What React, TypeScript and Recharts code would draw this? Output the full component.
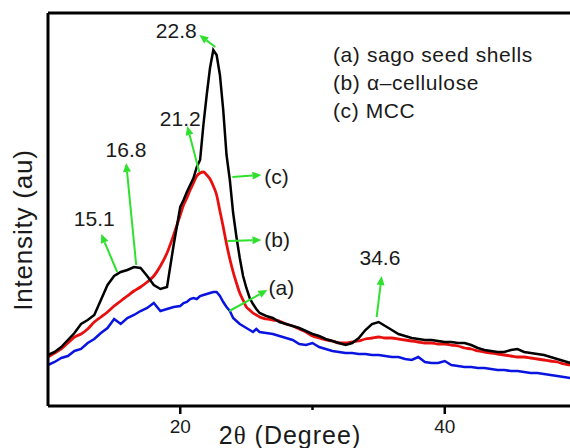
import { LineChart, Line, XAxis, YAxis, ReferenceLine, ReferenceDot, Legend, Label } from 'recharts';

// 2-theta positions (degrees)
const theta = [
  10, 10.5, 11, 11.5, 12, 12.5, 13, 13.5, 14, 14.5, 15, 15.5, 16, 16.5, 17, 17.5, 18, 18.5, 19, 19.5,
  20, 20.25, 20.5, 20.75, 21, 21.25, 21.5, 21.75, 22, 22.25, 22.5, 22.75, 23, 23.25, 23.5, 23.75, 24,
  24.25, 24.5, 24.75, 25, 25.25, 25.5, 25.75, 26,
  26.5, 27, 27.5, 28, 28.5, 29, 29.5, 30, 30.5, 31, 31.5, 32, 32.5, 33, 33.5, 34, 34.5, 35, 35.5, 36,
  36.5, 37, 37.5, 38, 38.5, 39, 39.5, 40, 40.5, 41, 41.5, 42, 42.5, 43, 43.5, 44, 44.5, 45, 45.5, 46,
  46.5, 47, 47.5, 48, 48.5, 49, 49.5, 50,
];

// (c) MCC
const mcc = [
  51, 54, 59, 66, 73, 82, 86, 91, 106, 121, 130, 134, 136, 139, 138, 130, 121, 117, 119, 161,
  199, 206, 214, 221, 228, 239, 246, 281, 311, 338, 356, 351, 331, 296, 251, 226, 193, 169, 148, 130,
  118, 108, 102, 97, 93,
  90, 88, 84, 82, 80, 78, 75, 72, 70, 67, 65, 63, 61, 63, 68, 76, 82, 84, 80, 76,
  72, 70, 68, 67, 66, 66, 65, 64, 64, 63, 63, 61, 58, 56, 55, 54, 54, 56, 57, 54,
  53, 52, 51, 49, 47, 45, 43, 41,
];

// (b) alpha-cellulose
const alphaCellulose = [
  49, 53, 57, 63, 69, 72, 77, 84, 89, 94, 100, 105, 110, 115, 119, 124, 130, 140, 153, 171,
  191, 201, 208, 216, 223, 230, 233, 234, 231, 227, 220, 211, 195, 179, 162, 147, 134, 123, 113, 106,
  99, 96, 93, 91, 89,
  87, 86, 85, 82, 80, 77, 74, 70, 68, 66, 65, 63, 63, 64, 65, 67, 68, 69, 68, 68,
  67, 66, 65, 64, 63, 63, 62, 62, 61, 60, 58, 57, 55, 54, 53, 52, 51, 50, 49, 49,
  48, 47, 46, 45, 44, 42, 41, 39,
];

// (a) sago seed shells
const sagoShells = [
  41, 44, 48, 50, 55, 57, 63, 67, 73, 78, 87, 82, 88, 91, 95, 98, 103, 95, 97, 99,
  100, 103, 104, 107, 108, 107, 110, 111, 112, 113, 114, 114, 110, 104, 99, 95, 88, 85, 82, 80,
  78, 76, 74, 77, 74,
  73, 72, 70, 68, 66, 62, 61, 63, 59, 57, 55, 54, 53, 53, 52, 52, 51, 51, 50, 49,
  49, 47, 46, 49, 44, 43, 43, 45, 41, 40, 39, 39, 38, 38, 37, 36, 36, 35, 35, 34,
  33, 33, 32, 31, 30, 29, 28, 27,
];

const xTicks = [20, 30, 40];

// annotation texts and arrows, in data units (2-theta, intensity)
const peakLabels = [
  { text: '22.8', x: 19.7, y: 375, anchor: 'middle' },
  { text: '21.2', x: 20.0, y: 287, anchor: 'middle' },
  { text: '16.8', x: 15.9, y: 256, anchor: 'middle' },
  { text: '15.1', x: 13.5, y: 187, anchor: 'middle' },
  { text: '34.6', x: 35.1, y: 148, anchor: 'middle' },
  { text: '(c)', x: 26.36, y: 229, anchor: 'start' },
  { text: '(b)', x: 26.36, y: 166, anchor: 'start' },
  { text: '(a)', x: 26.67, y: 118, anchor: 'start' },
];

const arrows = [
  { from: [22.65, 359], to: [21.44, 371] },
  { from: [21.44, 234], to: [20.53, 280] },
  { from: [16.67, 141], to: [15.91, 243] },
  { from: [15.23, 134], to: [14.02, 172] },
  { from: [23.94, 229], to: [26.14, 231] },
  { from: [23.56, 165], to: [26.14, 166] },
  { from: [23.71, 95], to: [26.59, 116] },
  { from: [34.85, 89], to: [35.23, 130] },
];

const data = theta.map((t, i) => ({
  theta: t,
  a: sagoShells[i],
  b: alphaCellulose[i],
  c: mcc[i],
}));

const FONT = '"Liberation Sans", Arial, sans-serif';
const GREEN = '#2fe02f';
const TEXT = '#1a1a1a';

const Arrow = (props: any) => {
  const { x1, y1, x2, y2 } = props;
  const ang = Math.atan2(y2 - y1, x2 - x1);
  const len = 9;
  const half = 4;
  const bx = x2 - len * Math.cos(ang);
  const by = y2 - len * Math.sin(ang);
  const px = -Math.sin(ang) * half;
  const py = Math.cos(ang) * half;
  return (
    <g>
      <line x1={x1} y1={y1} x2={bx} y2={by} stroke={GREEN} strokeWidth={2} />
      <polygon points={`${x2},${y2} ${bx + px},${by + py} ${bx - px},${by - py}`} fill={GREEN} />
    </g>
  );
};

const XTick = (props: any) => {
  const { x, y, payload } = props;
  const major = payload.value % 20 === 0;
  return (
    <g>
      <line x1={x} x2={x} y1={y} y2={y + (major ? 8 : 4)} stroke="#000" strokeWidth={2.5} />
      {major && (
        <text x={x} y={y + 27} textAnchor="middle" fontSize={19} fontFamily={FONT} fill={TEXT}>
          {payload.value}
        </text>
      )}
    </g>
  );
};

const LegendBox = ({ payload }: any) => {
  const items = [...(payload || [])].sort((p: any, q: any) => String(p.value).localeCompare(String(q.value)));
  return (
    <div style={{ fontFamily: FONT, fontSize: 21, lineHeight: '28px', color: TEXT, letterSpacing: 0.6 }}>
      {items.map((it: any) => (
        <div key={it.value} style={{ whiteSpace: 'nowrap' }}>{it.value}</div>
      ))}
    </div>
  );
};

export default function App() {
  return (
    <div style={{ position: 'absolute', left: 0, top: 0, width: 570, height: 448, overflow: 'hidden', background: '#fff' }}>
      <LineChart width={577} height={448} data={data} margin={{ top: 13, right: 0, left: 0, bottom: 0 }}>
        <XAxis
          dataKey="theta"
          type="number"
          domain={[10, 50]}
          ticks={xTicks}
          interval={0}
          height={42}
          tickSize={0}
          tickMargin={0}
          tickLine={false}
          tick={<XTick />}
          axisLine={{ stroke: '#000', strokeWidth: 3 }}
        >
          <Label
            content={({ viewBox }: any) => (
              <text
                x={viewBox.x + 242}
                y={viewBox.y + 38}
                textAnchor="middle"
                fontSize={25}
                letterSpacing={1}
                fontFamily={FONT}
                fill={TEXT}
              >
                2<tspan fontFamily='"Liberation Serif", serif'>θ</tspan> (Degree)
              </text>
            )}
          />
        </XAxis>
        <YAxis
          type="number"
          domain={[0, 393]}
          width={48}
          tick={false}
          tickLine={false}
          axisLine={{ stroke: '#000', strokeWidth: 3 }}
        >
          <Label
            content={({ viewBox }: any) => (
              <text
                x={viewBox.x + 32}
                y={230}
                transform={`rotate(-90 ${viewBox.x + 32} 230)`}
                textAnchor="middle"
                fontSize={26}
                letterSpacing={0.8}
                fontFamily={FONT}
                fill={TEXT}
              >
                Intensity (au)
              </text>
            )}
          />
        </YAxis>
        <ReferenceLine y={393} stroke="#000" strokeWidth={3} />
        <Legend
          layout="horizontal"
          verticalAlign="middle"
          align="center"
          wrapperStyle={{ left: 333, top: 41, width: 'auto', height: 'auto' }}
          content={<LegendBox />}
        />
        <Line type="linear" dataKey="a" name="(a) sago seed shells" stroke="#0a14e0" strokeWidth={2.5} dot={false} isAnimationActive={false} />
        <Line type="monotone" dataKey="b" name="(b) α–cellulose" stroke="#e8100e" strokeWidth={2.8} dot={false} isAnimationActive={false} />
        <Line type="linear" dataKey="c" name="(c) MCC" stroke="#000" strokeWidth={2.5} dot={false} isAnimationActive={false} />
        {arrows.map((a, i) => (
          <ReferenceLine
            key={`arr-${i}`}
            segment={[{ x: a.from[0], y: a.from[1] }, { x: a.to[0], y: a.to[1] }]}
            shape={Arrow}
          />
        ))}
        {peakLabels.map((l) => (
          <ReferenceDot
            key={l.text}
            x={l.x}
            y={l.y}
            r={0}
            shape={(p: any) => (
              <text x={p.cx} y={p.cy} dy="0.35em" textAnchor={l.anchor} fontSize={21} fontFamily={FONT} fill={TEXT}>
                {l.text}
              </text>
            )}
          />
        ))}
      </LineChart>
    </div>
  );
}
